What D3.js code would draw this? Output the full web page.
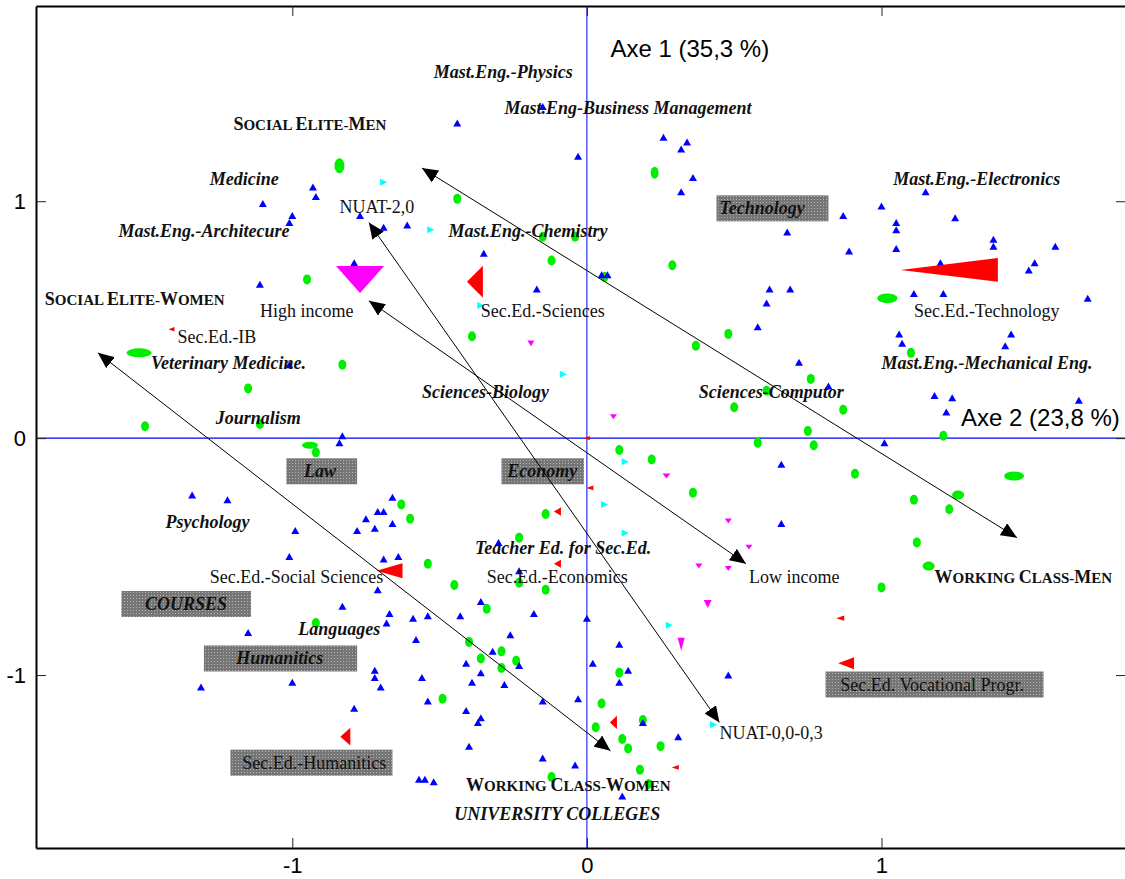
<!DOCTYPE html>
<html lang="en">
<head>
<meta charset="UTF-8">
<title>Correspondence analysis - courses and social origin</title>
<style>
  body { margin: 0; background: #fff; }
  svg { display: block; }
</style>
</head>
<body>
<svg id="chart"></svg>
<script src="https://d3js.org/d3.v7.min.js"></script>
<script>
const WIDTH = 1125, HEIGHT = 879;
const SERIF = '"Liberation Serif", "Times New Roman", serif';
const SANS = '"Liberation Sans", Arial, sans-serif';

// ---- data (axis 1 = x, axis 2 = y) ----
const courseEntries = [ // blue up triangles
  [-0.93,1.06],[-0.92,1.02],[-1.10,0.99],[-1.00,0.94],[-1.01,0.91],[-0.77,0.94],[-0.79,0.74],[-1.11,0.65],
  [-0.44,1.33],[-0.15,1.40],[-0.03,1.19],[0.26,1.27],[0.34,1.25],[0.32,1.22],[0.36,1.10],[0.32,1.04],
  [-0.69,0.89],[-0.61,0.90],[-0.35,0.78],[-0.17,0.63],[0.05,0.69],[0.07,0.69],
  [1.15,1.04],[1.00,0.98],[0.87,0.94],[1.05,0.91],[1.05,0.88],[1.25,0.93],[0.68,0.87],[0.89,0.79],
  [1.05,0.80],[1.38,0.84],[1.38,0.81],[1.59,0.81],[1.52,0.74],[1.50,0.71],[1.20,0.74],[0.62,0.63],
  [0.69,0.63],[1.11,0.61],[1.21,0.61],[1.70,0.59],[0.61,0.57],[0.58,0.47],[1.06,0.44],[1.07,0.40],
  [1.44,0.44],[1.42,0.39],[0.72,0.32],[0.82,0.22],[1.18,0.18],[1.24,0.17],[1.22,0.11],[1.67,0.16],
  [1.01,-0.02],[0.66,-0.11],[0.66,-0.36],
  [-1.01,0.31],[-0.83,0.01],[-0.84,-0.02],[-1.34,-0.24],[-1.22,-0.26],[-0.71,-0.31],[-0.75,-0.34],
  [-0.99,-0.39],[-0.78,-0.39],[-0.72,-0.38],[-1.01,-0.50],[-0.66,-0.25],[-0.69,-0.31],[-0.66,-0.36],
  [-0.30,-0.44],[-0.69,-0.51],[-0.64,-0.50],[-0.23,-0.56],
  [-0.71,-0.64],[-0.83,-0.71],[-1.15,-0.82],[-0.72,-0.98],[-0.72,-1.01],[-1.00,-1.03],[-1.31,-1.05],
  [-0.79,-1.14],[-0.70,-1.05],[-0.36,-0.69],[-0.67,-0.74],[-0.68,-0.78],[-0.59,-0.76],[-0.54,-0.75],
  [-0.43,-0.75],[-0.18,-0.74],[0.00,-0.76],[-0.58,-0.85],[-0.26,-0.83],[-0.32,-0.90],[-0.41,-0.95],
  [-0.23,-0.96],[0.02,-0.95],[0.11,-0.87],[0.14,-0.98],[0.11,-1.03],[-0.56,-1.01],[-0.36,-0.99],
  [-0.39,-1.03],[-0.28,-1.04],[-0.54,-1.11],[-0.15,-1.11],[-0.03,-1.10],[-0.41,-1.15],[-0.36,-1.18],
  [-0.37,-1.20],[-0.40,-1.30],[-0.15,-1.35],[-0.04,-1.38],[-0.57,-1.44],[-0.55,-1.44],[-0.52,-1.45],
  [0.31,-1.26],[0.19,-1.20],[0.12,-1.51],[0.48,-1.00]
];

const individuals = [ // green dots
  [-0.95,0.67],[-0.44,1.01],[-0.15,0.85],[-0.04,0.85],[-0.12,0.75],[0.29,0.73],[0.06,0.68],
  [-0.83,0.31],[-1.15,0.21],[-1.11,0.06],[-0.92,-0.06],[-1.50,0.05],
  [-0.39,0.43],[0.48,0.44],[0.37,0.39],[0.50,0.13],[0.11,-0.05],[0.22,-0.09],[0.36,-0.23],
  [-0.14,-0.32],[-0.63,-0.28],[-0.60,-0.34],[-0.23,-0.42],[-0.54,-0.53],[-0.45,-0.62],[-0.23,-0.61],
  [-0.14,-0.64],[1.10,0.36],[0.76,0.25],[0.87,0.12],[0.75,0.03],[0.77,-0.03],[0.58,-0.02],
  [1.21,0.01],[0.91,-0.15],[1.11,-0.26],[1.23,-0.30],[1.12,-0.44],[1.00,-0.63],[0.61,0.20],
  [-0.92,-0.78],[-0.34,-0.72],[-0.40,-0.86],[-0.29,-0.90],[-0.36,-0.93],[-0.29,-0.97],[-0.24,-0.94],
  [-0.49,-1.10],[0.11,-0.99],[0.05,-1.12],[0.19,-1.19],[0.03,-1.22],[0.12,-1.27],[0.14,-1.31],
  [0.25,-1.30],[0.18,-1.40],[0.21,-1.46],[-0.12,-1.43]
];
// heavier green points: [axis1, axis2, extent on axis1, extent on axis2]
const individualsHeavy = [
  [-0.84,1.15,0.034,0.063],[0.23,1.12,0.027,0.051],[1.02,0.59,0.068,0.042],[-1.52,0.36,0.085,0.038],
  [-0.94,-0.03,0.054,0.030],[1.45,-0.16,0.068,0.038],[1.26,-0.24,0.041,0.038],[1.16,-0.54,0.041,0.038]
];

// red left triangles: secondary education programmes
const secEdPoints = [
  [1.23,0.71,0.33,0.10],[-0.38,0.66,0.054,0.135],[-0.67,-0.56,0.088,0.063],[-0.82,-1.26,0.034,0.075],
  [0.88,-0.95,0.054,0.05],[0.09,-1.20,0.024,0.056],[-1.41,0.46,0.02,0.019],[0.00,0.00,0.02,0.018],
  [0.01,-0.21,0.024,0.02],[-0.10,-0.31,0.024,0.036],[-0.10,-0.53,0.024,0.034],[0.30,-1.39,0.024,0.02],
  [0.86,-0.76,0.027,0.022]
];

// magenta down triangles: income
const incomePoints = [
  [-0.77,0.67,0.163,0.114],[-0.19,0.40,0.024,0.025],[0.09,0.09,0.024,0.021],[0.27,-0.16,0.027,0.021],
  [0.48,-0.35,0.024,0.021],[0.55,-0.46,0.024,0.021],[0.38,-0.54,0.024,0.021],[0.48,-0.55,0.024,0.021],
  [0.41,-0.70,0.027,0.034],[0.32,-0.87,0.024,0.055]
];

// cyan right triangles: NUAT scores
const nuatPoints = [
  [-0.69,1.08],[-0.53,0.88],[-0.36,0.56],[-0.08,0.27],[0.13,-0.10],[0.06,-0.28],[0.13,-0.40],
  [0.28,-0.79],[0.43,-1.21]
];

// double headed arrows [from axis1, axis2, to axis1, axis2]
const arrows = [
  [-1.66,0.36,0.08,-1.32],
  [-0.56,1.14,1.46,-0.42],
  [-0.74,0.58,0.54,-0.53],
  [-0.74,0.91,0.45,-1.20]
];

const courseLabels = [
  ["Mast.Eng.-Physics",-0.52,1.52],["Mast.Eng-Business Management",-0.28,1.37],
  ["Medicine",-1.28,1.07],["Mast.Eng.-Architecure",-1.59,0.85],["Mast.Eng.-Chemistry",-0.47,0.85],
  ["Mast.Eng.-Electronics",1.04,1.07],["Veterinary Medicine.",-1.48,0.29],["Journalism",-1.26,0.06],
  ["Sciences-Biology",-0.56,0.17],["Sciences-Computor",0.38,0.17],["Mast.Eng.-Mechanical Eng.",1.00,0.29],
  ["Psychology",-1.43,-0.38],["Teacher Ed. for Sec.Ed.",-0.38,-0.49],["Languages",-0.98,-0.83],
  ["UNIVERSITY COLLEGES",-0.45,-1.61]
];
const plainLabels = [
  ["NUAT-2,0",-0.84,0.95],["High income",-1.11,0.51],["Sec.Ed.-IB",-1.39,0.40],
  ["Sec.Ed.-Sciences",-0.36,0.51],["Sec.Ed.-Technology",1.11,0.51],
  ["Sec.Ed.-Social Sciences",-1.28,-0.61],["Sec.Ed.-Economics",-0.34,-0.61],
  ["Low income",0.55,-0.61],["NUAT-0,0-0,3",0.45,-1.27]
];
const classLabels = [
  ["Social Elite-Men",-1.20,1.30],["Social Elite-Women",-1.84,0.56],
  ["Working Class-Men",1.18,-0.61],["Working Class-Women",-0.41,-1.49]
];
// boxed headings: text, box from, box to, centre on axis 2, text start, bold italic?
const boxedLabels = [
  ["Technology",0.44,0.82,0.97,0.45,true],
  ["Law",-1.02,-0.78,-0.14,-0.96,true],
  ["Economy",-0.29,-0.01,-0.14,-0.27,true],
  ["COURSES",-1.58,-1.14,-0.70,-1.50,true],
  ["Humanitics",-1.30,-0.78,-0.93,-1.19,true],
  ["Sec.Ed.-Humanitics",-1.21,-0.66,-1.37,-1.17,false],
  ["Sec.Ed. Vocational Progr.",0.81,1.55,-1.04,0.86,false]
];
const axisTitles = [["Axe 1 (35,3 %)",0.08,1.61],["Axe 2 (23,8 %)",1.27,0.05]];
const tickValues = [-1,0,1];

// ---- scales ----
const x = d3.scaleLinear().domain([-1.87,1.83]).range([36,1126]);
const y = d3.scaleLinear().domain([-1.73,1.824]).range([848,6]);
const sx = v => x(v) - x(0);
const sy = v => y(0) - y(v);

const svg = d3.select('#chart').attr('width',WIDTH).attr('height',HEIGHT);

// dotted grey fill for the boxes
const defs = svg.append('defs');
const pat = defs.append('pattern').attr('id','dots').attr('patternUnits','userSpaceOnUse')
  .attr('width',3).attr('height',3);
pat.append('rect').attr('width',3).attr('height',3).attr('fill','#767676');
pat.append('rect').attr('x',1).attr('y',1).attr('width',1).attr('height',1).attr('fill','#b4b4b4');

defs.append('marker').attr('id','head').attr('viewBox','0 0 16 14')
  .attr('markerUnits','userSpaceOnUse').attr('markerWidth',16).attr('markerHeight',14)
  .attr('refX',16).attr('refY',7).attr('orient','auto-start-reverse')
  .append('path').attr('d','M0,0L16,7L0,14Z').attr('fill','#000');

// boxes
svg.append('g').selectAll('rect').data(boxedLabels).join('rect')
  .attr('x',d => x(d[1])).attr('width',d => x(d[2]) - x(d[1]))
  .attr('y',d => y(d[3]) - 13).attr('height',26)
  .attr('fill','url(#dots)');

// reference lines through the origin
svg.append('line').attr('x1',x(0)).attr('x2',x(0)).attr('y1',y.range()[1]).attr('y2',y.range()[0])
  .attr('stroke','#0000ff').attr('stroke-width',1);
svg.append('line').attr('y1',y(0)).attr('y2',y(0)).attr('x1',x.range()[0]).attr('x2',x.range()[1])
  .attr('stroke','#0000ff').attr('stroke-width',1.2);

// axes (ticks inside the frame)
const fmt = d => String(d);
const gBottom = svg.append('g').attr('transform',`translate(0,${y.range()[0]})`)
  .call(d3.axisBottom(x).tickValues(tickValues).tickSizeInner(-10).tickSizeOuter(0).tickPadding(9).tickFormat(fmt));
const gLeft = svg.append('g').attr('transform',`translate(${x.range()[0]},0)`)
  .call(d3.axisLeft(y).tickValues(tickValues).tickSizeInner(-10).tickSizeOuter(0).tickPadding(10).tickFormat(fmt));
const gTop = svg.append('g').attr('transform',`translate(0,${y.range()[1]})`)
  .call(d3.axisTop(x).tickValues(tickValues).tickSizeInner(-10).tickSizeOuter(0).tickFormat(''));
const gRight = svg.append('g').attr('transform',`translate(${x.range()[1]},0)`)
  .call(d3.axisRight(y).tickValues(tickValues).tickSizeInner(-10).tickSizeOuter(0).tickFormat(''));
[gBottom,gLeft,gTop,gRight].forEach(g => {
  g.select('.domain').attr('stroke','#000').attr('stroke-width',2);
  g.selectAll('.tick line').attr('stroke','#222');
  g.selectAll('.tick text').attr('font-family',SANS).attr('font-size',22).attr('fill','#000');
});

// green dots
const marks = svg.append('g');
marks.selectAll('ellipse.dot').data(individuals).join('ellipse').attr('class','dot')
  .attr('cx',d => x(d[0])).attr('cy',d => y(d[1])).attr('rx',4).attr('ry',5).attr('fill','#00ee00');
marks.selectAll('ellipse.heavy').data(individualsHeavy).join('ellipse').attr('class','heavy')
  .attr('cx',d => x(d[0])).attr('cy',d => y(d[1]))
  .attr('rx',d => sx(d[2]) / 2).attr('ry',d => sy(d[3]) / 2).attr('fill','#00ee00');

// blue course triangles
marks.selectAll('path.course').data(courseEntries).join('path').attr('class','course')
  .attr('d',d => { const cx = x(d[0]), cy = y(d[1]);
    return `M${cx-4},${cy+3.5}L${cx+4},${cy+3.5}L${cx},${cy-3.5}Z`; })
  .attr('fill','#0000ff');

// cyan NUAT triangles
marks.selectAll('path.nuat').data(nuatPoints).join('path').attr('class','nuat')
  .attr('d',d => { const cx = x(d[0]), cy = y(d[1]);
    return `M${cx-3.5},${cy-3.5}L${cx+3.5},${cy}L${cx-3.5},${cy+3.5}Z`; })
  .attr('fill','#00ffff');

// red secondary education triangles
marks.selectAll('path.sec').data(secEdPoints).join('path').attr('class','sec')
  .attr('d',d => { const cx = x(d[0]), cy = y(d[1]), w = sx(d[2]) / 2, h = sy(d[3]) / 2;
    return `M${cx-w},${cy}L${cx+w},${cy-h}L${cx+w},${cy+h}Z`; })
  .attr('fill','#ff0000');

// magenta income triangles
marks.selectAll('path.inc').data(incomePoints).join('path').attr('class','inc')
  .attr('d',d => { const cx = x(d[0]), cy = y(d[1]), w = sx(d[2]) / 2, h = sy(d[3]) / 2;
    return `M${cx-w},${cy-h}L${cx+w},${cy-h}L${cx},${cy+h}Z`; })
  .attr('fill','#ff00ff');

// labels
const labels = svg.append('g').attr('font-family',SERIF).attr('fill','#111');
labels.selectAll('text.course').data(courseLabels).join('text').attr('class','course')
  .attr('x',d => x(d[1])).attr('y',d => y(d[2])).text(d => d[0])
  .attr('font-size',18).attr('font-weight','bold').attr('font-style','italic');
labels.selectAll('text.plain').data(plainLabels).join('text').attr('class','plain')
  .attr('x',d => x(d[1])).attr('y',d => y(d[2])).text(d => d[0])
  .attr('font-size',18);

// hand made small caps: capitals large, the rest as smaller capitals
const cls = labels.selectAll('text.cls').data(classLabels).join('text').attr('class','cls')
  .attr('x',d => x(d[1])).attr('y',d => y(d[2])).attr('font-weight','bold');
cls.each(function (d) {
  const t = d3.select(this);
  d[0].split('').forEach(ch => {
    const big = ch !== ch.toLowerCase();
    t.append('tspan').attr('font-size',big ? 18 : 15).text(ch.toUpperCase());
  });
});

labels.selectAll('text.boxed').data(boxedLabels).join('text').attr('class','boxed')
  .attr('x',d => x(d[4])).attr('y',d => y(d[3]) + 6).text(d => d[0])
  .attr('font-size',18)
  .attr('font-weight',d => d[5] ? 'bold' : 'normal')
  .attr('font-style',d => d[5] ? 'italic' : 'normal');

svg.append('g').selectAll('text').data(axisTitles).join('text')
  .attr('x',d => x(d[1])).attr('y',d => y(d[2])).text(d => d[0])
  .attr('font-family',SANS).attr('font-size',24).attr('fill','#000');

// arrows
svg.append('g').selectAll('line').data(arrows).join('line')
  .attr('x1',d => x(d[0])).attr('y1',d => y(d[1])).attr('x2',d => x(d[2])).attr('y2',d => y(d[3]))
  .attr('stroke','#000').attr('stroke-width',1)
  .attr('marker-start','url(#head)').attr('marker-end','url(#head)');
</script>
</body>
</html>
